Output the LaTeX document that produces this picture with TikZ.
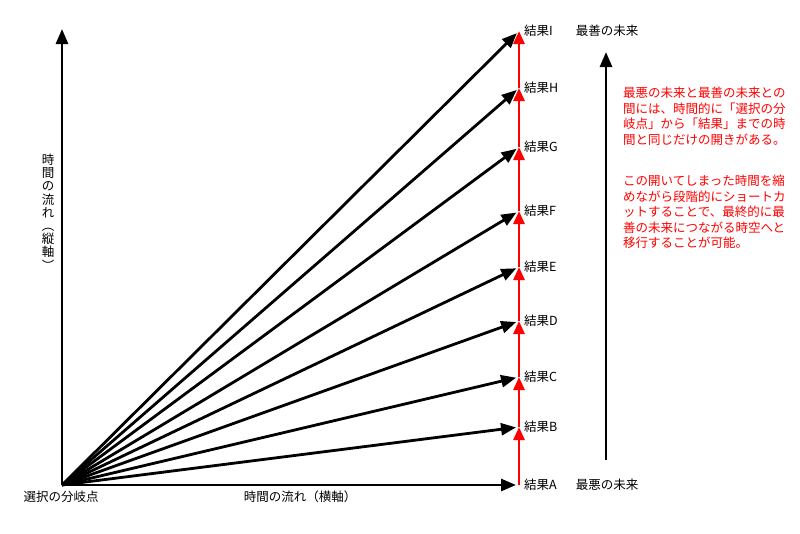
\documentclass[tikz,border=0pt]{standalone}
\usepackage{fontspec}
\setmainfont{Noto Sans CJK JP}
\usetikzlibrary{arrows.meta}

\tikzset{
	axis/.style = {line width=2.8pt, -{Triangle[length=15pt,width=12pt]}},
	branch/.style = {axis, shorten >=3pt},
	shortcut/.style = {red, line width=2.8pt, -{Triangle[length=13pt,width=11pt]}},
	lbl/.style = {font=\fontsize{12.5}{15.5}\selectfont, inner sep=0pt},
	note/.style = {lbl, red, anchor=north west, align=left}
}

\begin{document}
\begin{tikzpicture}[x=1pt, y=-1pt]
	\useasboundingbox (0,0) rectangle (800,533);
	% axes
	\coordinate (O) at (62,485);
	\coordinate (vtop) at (62,29);
	\coordinate (htop) at (516,485);
	\draw [axis] (O) -- (vtop);
	\node [lbl] (origin) at (61,497) {選択の分岐点};
	\node [lbl] (hlabel) at (300,497) {時間の流れ（横軸）};
	\node [lbl, align=center, font=\fontsize{12.5}{13.2}\selectfont] (vlabel) at (48,212)
		{時\\間\\の\\流\\れ\\︵\\縦\\軸\\︶};
	% outcomes
	\foreach \k/\y in {A/485,B/427,C/377,D/321,E/267,F/211,G/147,H/88,I/31}{
		\coordinate (r\k) at (519,\y);
		\node [lbl, anchor=west] (l\k) at (524,\y) {結果\k};
	}
	\foreach \k in {B,...,I}
		\draw [branch] (O) -- (r\k);
	\draw [axis] (O) -- (htop);
	\foreach \a/\b in {A/B,B/C,C/D,D/E,E/F,F/G,G/H,H/I}
		\draw [shortcut] (r\a) -- (r\b);
	% worst to best
	\node [lbl] (worst) at (607,485) {最悪の未来};
	\node [lbl] (best) at (607,31) {最善の未来};
	\coordinate (fbot) at (606,460);
	\coordinate (ftop) at (606,52);
	\draw [axis] (fbot) -- (ftop);
	\node [note] (note1) at (623,87) {最悪の未来と最善の未来との\\間には、時間的に「選択の分\\岐点」から「結果」までの時\\間と同じだけの開きがある。};
	\node [note] (note2) at (623,175) {この開いてしまった時間を縮\\めながら段階的にショートカ\\ットすることで、最終的に最\\善の未来につながる時空へと\\移行することが可能。};
\end{tikzpicture}
\end{document}
